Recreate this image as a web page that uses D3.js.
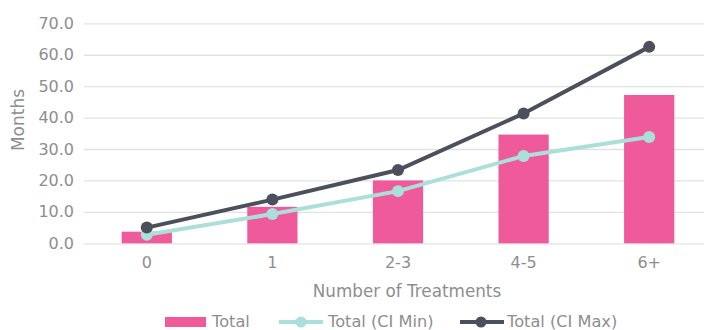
<!DOCTYPE html>
<html><head><meta charset="utf-8">
<script src="https://cdn.jsdelivr.net/npm/d3@7"></script>
<style>body{margin:0;background:#fff}svg{display:block}</style>
</head><body>
<script>
const categories = ["0", "1", "2-3", "4-5", "6+"];
const total = [3.7, 11.6, 20.0, 34.6, 47.2];
const ciMin = [2.7, 9.3, 16.6, 27.8, 33.8];
const ciMax = [5.0, 13.9, 23.3, 41.3, 62.5];
const yTicks = [0, 10, 20, 30, 40, 50, 60, 70];

const W = 704, H = 330;
const svg = d3.select("body").append("svg").attr("width", W).attr("height", H);
const font = "DejaVu Sans";
const gray = "#8e8e8e";
const pink = "#ef5a9a", teal = "#abdfd9", dark = "#4b505c";

const x = d3.scaleBand().domain(categories).range([84, 712]).paddingInner(0.6).paddingOuter(0.3);
const y = d3.scaleLinear().domain([0, 70]).range([243.3, 23.3]);
const cx = c => x(c) + x.bandwidth() / 2;

// grid
const yAxis = d3.axisLeft(y).tickValues(yTicks).tickFormat(d3.format(".1f")).tickSize(-(712 - 84)).tickPadding(10);
const gy = svg.append("g").attr("transform", "translate(84,0)").call(yAxis);
gy.select(".domain").remove();
gy.selectAll(".tick line").attr("stroke", "#e2e2e2").attr("stroke-width", 1.3);
gy.selectAll(".tick text").attr("fill", gray).attr("font-family", font).attr("font-size", 16);

// bars
svg.append("g").selectAll("rect").data(categories).join("rect")
  .attr("x", c => x(c)).attr("width", x.bandwidth())
  .attr("y", (c, i) => y(total[i])).attr("height", (c, i) => y(0) - y(total[i]))
  .attr("fill", pink);

// x axis
const xAxis = d3.axisBottom(x).tickSize(0).tickPadding(13);
const gx = svg.append("g").attr("transform", "translate(0,243.3)").call(xAxis);
gx.select(".domain").remove();
gx.selectAll(".tick text").attr("fill", gray).attr("font-family", font).attr("font-size", 16);

// lines
function series(vals, color) {
  const line = d3.line().x((d, i) => cx(categories[i])).y(d => y(d));
  svg.append("path").datum(vals).attr("d", line).attr("fill", "none").attr("stroke", color).attr("stroke-width", 4);
  svg.append("g").selectAll("circle").data(vals).join("circle")
    .attr("cx", (d, i) => cx(categories[i])).attr("cy", d => y(d)).attr("r", 6).attr("fill", color);
}
series(ciMin, teal);
series(ciMax, dark);

// axis titles
svg.append("text").attr("x", 407).attr("y", 292).attr("text-anchor", "middle").attr("dominant-baseline", "middle")
  .attr("fill", gray).attr("font-family", font).attr("font-size", 16.8).text("Number of Treatments");
svg.append("text").attr("transform", "translate(19,120) rotate(-90)").attr("text-anchor", "middle").attr("dominant-baseline", "middle")
  .attr("fill", gray).attr("font-family", font).attr("font-size", 17).text("Months");

// legend
const ly = 322;
const fs = 16.2;
const lg = svg.append("g");
lg.append("rect").attr("x", 165).attr("y", ly - 5).attr("width", 41).attr("height", 10).attr("fill", pink);
lg.append("text").attr("x", 212).attr("y", ly).attr("dominant-baseline", "middle").attr("fill", gray).attr("font-family", font).attr("font-size", fs).text("Total");
lg.append("line").attr("x1", 279).attr("x2", 323).attr("y1", ly).attr("y2", ly).attr("stroke", teal).attr("stroke-width", 4);
lg.append("circle").attr("cx", 301).attr("cy", ly).attr("r", 5.5).attr("fill", teal);
lg.append("text").attr("x", 328).attr("y", ly).attr("dominant-baseline", "middle").attr("fill", gray).attr("font-family", font).attr("font-size", fs).text("Total (CI Min)");
lg.append("line").attr("x1", 460).attr("x2", 504).attr("y1", ly).attr("y2", ly).attr("stroke", dark).attr("stroke-width", 4);
lg.append("circle").attr("cx", 481).attr("cy", ly).attr("r", 5.5).attr("fill", dark);
lg.append("text").attr("x", 507).attr("y", ly).attr("dominant-baseline", "middle").attr("fill", gray).attr("font-family", font).attr("font-size", fs).text("Total (CI Max)");
</script>
</body></html>
